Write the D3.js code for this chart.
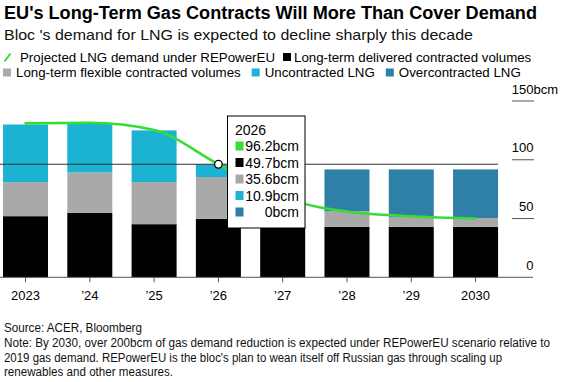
<!DOCTYPE html>
<html>
<head>
<meta charset="utf-8">
<script src="https://cdn.jsdelivr.net/npm/d3@7"></script>
<style>
  html, body { margin: 0; padding: 0; background: #fff; }
  svg { display: block; font-family: "Liberation Sans", Arial, Helvetica, sans-serif; }
</style>
</head>
<body>
<svg id="chart" width="576" height="382"></svg>
<script>
// ---- data ----
const years = ["2023", "’24", "’25", "’26", "’27", "’28", "’29", "2030"];
const delivered = [52, 54.8, 45.2, 49.7, 43, 43, 43, 43];
const flexible = [29, 34.4, 35.8, 35.6, 13, 13.2, 8.4, 7.3];
const uncontracted = [49, 41.8, 44, 10.9, 0, 0, 0, 0];
const overcontracted = [0, 0, 0, 0, 32, 35.6, 40.4, 41.5];
const demand = [131, 131.5, 125.3, 96.2, 68, 56, 52, 50];
const yTicks = [0, 50, 100, 150];
const seriesNames = ["Long-term delivered contracted volumes", "Long-term flexible contracted volumes", "Uncontracted LNG", "Overcontracted LNG"];
const seriesColors = ["#000000", "#a9a9a9", "#1bb3d1", "#2e80a6"];
const lineName = "Projected LNG demand under REPowerEU";
const lineColor = "#36dd36";
const hoverIndex = 3;

const svg = d3.select("#chart");

function fit(sel, target) {
  const node = sel.node();
  const w = node.getComputedTextLength();
  if (Math.abs(w - target) > 1.5) {
    sel.attr("textLength", target).attr("lengthAdjust", "spacingAndGlyphs");
  }
  return sel;
}

// ---- titles ----
fit(svg.append("text").attr("x", 4).attr("y", 18.5)
  .attr("font-size", 18).attr("font-weight", "bold").attr("fill", "#000")
  .text("EU's Long-Term Gas Contracts Will More Than Cover Demand"), 533);
fit(svg.append("text").attr("x", 4).attr("y", 39.5)
  .attr("font-size", 15).attr("fill", "#111")
  .text("Bloc 's demand for LNG is expected to decline sharply this decade"), 469);

// ---- legend ----
const lg = svg.append("g").attr("font-size", 13.3).attr("fill", "#000");
// row 1
lg.append("line").attr("x1", 4.5).attr("y1", 61.5).attr("x2", 10.5).attr("y2", 53.5)
  .attr("stroke", lineColor).attr("stroke-width", 2);
lg.append("text").attr("x", 20).attr("y", 61.5).text(lineName);
lg.append("rect").attr("x", 283).attr("y", 53).attr("width", 8).attr("height", 8).attr("fill", seriesColors[0]);
lg.append("text").attr("x", 294).attr("y", 61.5).text(seriesNames[0]);
// row 2 laid out sequentially
let cx = 3;
[1, 2, 3].forEach(i => {
  lg.append("rect").attr("x", cx).attr("y", 68.5).attr("width", 8).attr("height", 8).attr("fill", seriesColors[i]);
  const t = lg.append("text").attr("x", cx + 13).attr("y", 77).text(seriesNames[i]);
  cx = cx + 13 + t.node().getComputedTextLength() + 11;
});

// ---- scales ----
const x = d3.scaleBand().domain(years).range([-6.64, 507.7]).paddingInner(0.3).paddingOuter(0.15);
const y = d3.scaleLinear().domain([0, 150]).range([277.3, 101]);

// ---- bars ----
const rows = years.map((yr, i) => ({
  year: yr,
  delivered: delivered[i], flexible: flexible[i],
  uncontracted: uncontracted[i], overcontracted: overcontracted[i]
}));
const keys = ["delivered", "flexible", "uncontracted", "overcontracted"];
const stacked = d3.stack().keys(keys)(rows);
svg.append("g").selectAll("g").data(stacked).join("g")
  .attr("fill", (d, i) => seriesColors[i])
  .selectAll("rect").data(d => d).join("rect")
  .attr("x", d => x(d.data.year))
  .attr("width", x.bandwidth())
  .attr("y", d => y(d[1]))
  .attr("height", d => Math.max(0, y(d[0]) - y(d[1])));

// ---- baseline & bottom axis ----
svg.append("line").attr("x1", 0).attr("x2", 533).attr("y1", y(0)).attr("y2", y(0))
  .attr("stroke", "#555").attr("stroke-width", 1);
const xAxis = svg.append("g").attr("transform", `translate(0,${y(0)})`)
  .call(d3.axisBottom(x).tickSize(5).tickSizeOuter(0).tickPadding(5));
xAxis.select(".domain").remove();
xAxis.selectAll(".tick line").attr("stroke", "#555");
xAxis.selectAll(".tick text").attr("font-size", 13).attr("fill", "#000")
  .attr("font-family", "\"Liberation Sans\", Arial, sans-serif").attr("dy", "0.95em");

// ---- right axis ----
const ra = svg.append("g");
yTicks.forEach(t => {
  if (t > 0) {
    ra.append("line").attr("x1", 512).attr("x2", 534).attr("y1", y(t)).attr("y2", y(t))
      .attr("stroke", "#555").attr("stroke-width", 1);
  }
  ra.append("text").attr("x", 533.5).attr("y", y(t) - 7.5)
    .attr("font-size", 13).attr("fill", "#000").attr("text-anchor", "end").text(t);
  if (t === 150) {
    ra.append("text").attr("x", 533.5).attr("y", y(t) - 7.5)
      .attr("font-size", 13).attr("fill", "#000").text("bcm");
  }
});

// ---- hover crosshair ----
svg.append("line").attr("x1", 0).attr("x2", 498).attr("y1", y(demand[hoverIndex])).attr("y2", y(demand[hoverIndex]))
  .attr("stroke", "#333").attr("stroke-width", 1.2);

// ---- demand line ----
const line = d3.line()
  .x((d, i) => x(years[i]) + x.bandwidth() / 2)
  .y(d => y(d))
  .curve(d3.curveMonotoneX);
svg.append("path").datum(demand).attr("d", line)
  .attr("fill", "none").attr("stroke", lineColor).attr("stroke-width", 2.6)
  .attr("stroke-linejoin", "round").attr("stroke-linecap", "round");

svg.append("circle")
  .attr("cx", x(years[hoverIndex]) + x.bandwidth() / 2)
  .attr("cy", y(demand[hoverIndex]))
  .attr("r", 3.8).attr("fill", "#fff").attr("stroke", "#000").attr("stroke-width", 1.3);

// ---- tooltip ----
const tip = svg.append("g");
tip.append("rect").attr("x", 227.5).attr("y", 116).attr("width", 77.5).attr("height", 112)
  .attr("fill", "#fff").attr("stroke", "#000").attr("stroke-width", 1);
tip.append("text").attr("x", 235).attr("y", 135).attr("font-size", 14).attr("fill", "#000")
  .text("2026");
const tipRows = [
  {v: demand[hoverIndex], c: lineColor},
  {v: delivered[hoverIndex], c: seriesColors[0]},
  {v: flexible[hoverIndex], c: seriesColors[1]},
  {v: uncontracted[hoverIndex], c: seriesColors[2]},
  {v: overcontracted[hoverIndex], c: seriesColors[3]}
];
tipRows.forEach((r, i) => {
  const cy = 146 + i * 16.5;
  tip.append("rect").attr("x", 235.5).attr("y", cy - 4.5).attr("width", 8).attr("height", 9)
    .attr("fill", r.c);
  tip.append("text").attr("x", 299).attr("y", cy + 5).attr("font-size", 14).attr("fill", "#000")
    .attr("text-anchor", "end").text(r.v + "bcm");
});

// ---- footnotes ----
const notes = [
  {t: "Source: ACER, Bloomberg", y: 331.5, w: 138},
  {t: "Note: By 2030, over 200bcm of gas demand reduction is expected under REPowerEU scenario relative to", y: 347, w: 546},
  {t: "2019 gas demand. REPowerEU is the bloc's plan to wean itself off Russian gas through scaling up", y: 362, w: 498},
  {t: "renewables and other measures.", y: 376, w: 169}
];
notes.forEach(n => {
  fit(svg.append("text").attr("x", 4).attr("y", n.y).attr("font-size", 12).attr("fill", "#111").text(n.t), n.w);
});
</script>
</body>
</html>
